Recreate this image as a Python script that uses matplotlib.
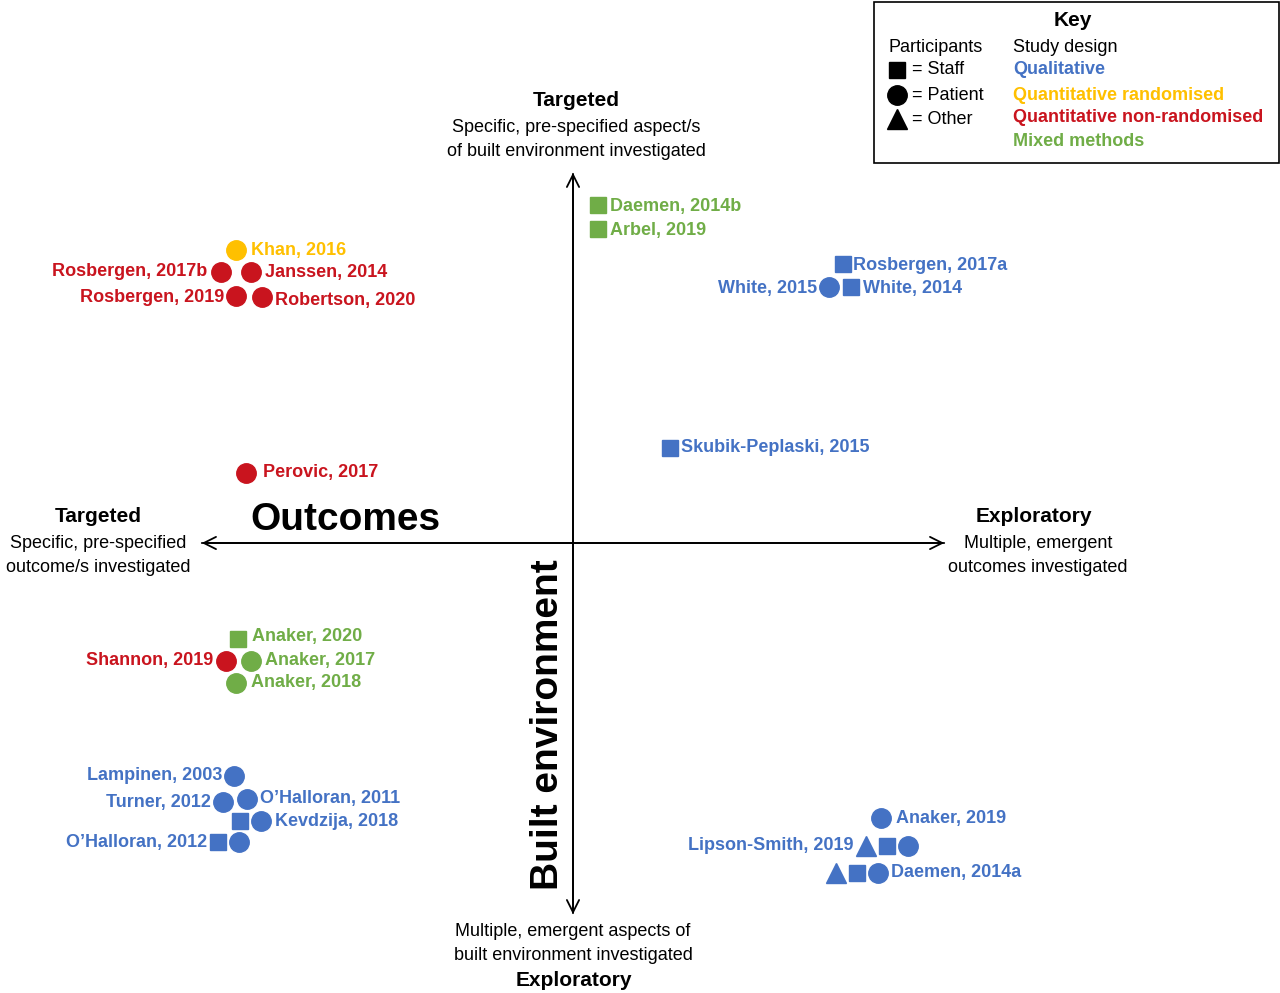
import matplotlib.pyplot as plt

plt.rcParams['font.family'] = ['Liberation Sans', 'DejaVu Sans']

BLUE = '#4472C4'
GREEN = '#70AD47'
YELLOW = '#FFC000'
RED = '#C9141E'

# study markers: x, y (diagram pixel positions), shape, colour
mark_x = [598, 598, 236, 221, 251, 236, 262, 843, 829, 851, 670, 246,
          238, 226, 251, 236, 234, 223, 247, 240, 261, 218, 239,
          881, 866, 887, 908, 836, 857, 878]
mark_y = [205, 229, 250, 272, 272, 296, 297, 264, 287, 287, 448, 473,
          639, 661, 661, 683, 776, 802, 799, 821, 821, 842, 842,
          818, 846, 846, 846, 873, 873, 873]
mark_shape = ['s', 's', 'o', 'o', 'o', 'o', 'o', 's', 'o', 's', 's', 'o',
              's', 'o', 'o', 'o', 'o', 'o', 'o', 's', 'o', 's', 'o',
              'o', '^', 's', 'o', '^', 's', 'o']
mark_col = [GREEN, GREEN, YELLOW, RED, RED, RED, RED, BLUE, BLUE, BLUE, BLUE, RED,
            GREEN, RED, GREEN, GREEN, BLUE, BLUE, BLUE, BLUE, BLUE, BLUE, BLUE,
            BLUE, BLUE, BLUE, BLUE, BLUE, BLUE, BLUE]

# study labels: x, y, text, alignment, colour
lab_x = [610, 610, 251, 207, 265, 224, 275, 853, 817, 863, 681, 263,
         252, 213, 265, 251, 222, 211, 260, 275, 207, 896, 853, 891]
lab_y = [206, 230, 250, 272, 272, 297, 300, 265, 289, 288, 448, 473,
         637, 661, 660, 683, 775, 802, 799, 821, 842, 818, 846, 873]
lab_text = ['Daemen, 2014b', 'Arbel, 2019', 'Khan, 2016', 'Rosbergen, 2017b',
            'Janssen, 2014', 'Rosbergen, 2019', 'Robertson, 2020', 'Rosbergen, 2017a',
            'White, 2015', 'White, 2014', 'Skubik-Peplaski, 2015', 'Perovic, 2017',
            'Anaker, 2020', 'Shannon, 2019', 'Anaker, 2017', 'Anaker, 2018',
            'Lampinen, 2003', 'Turner, 2012', 'O\u2019Halloran, 2011', 'Kevdzija, 2018',
            'O\u2019Halloran, 2012', 'Anaker, 2019', 'Lipson-Smith, 2019', 'Daemen, 2014a']
lab_ha = ['left', 'left', 'left', 'right', 'left', 'right', 'left', 'left',
          'right', 'left', 'left', 'left', 'left', 'right', 'left', 'left',
          'right', 'right', 'left', 'left', 'right', 'left', 'right', 'left']
lab_col = [GREEN, GREEN, YELLOW, RED, RED, RED, RED, BLUE, BLUE, BLUE, BLUE, RED,
           GREEN, RED, GREEN, GREEN, BLUE, BLUE, BLUE, BLUE, BLUE, BLUE, BLUE, BLUE]

fig = plt.figure(figsize=(12.8, 9.93), dpi=100)
ax = fig.add_axes([0, 0, 1, 1])
ax.set_xlim(0, 1280)
ax.set_ylim(993, 0)
ax.axis('off')

arrow = dict(arrowstyle='->', lw=1.3, color='black', mutation_scale=22)
ax.annotate('', xy=(573, 170), xytext=(573, 916), arrowprops=arrow)
ax.annotate('', xy=(573, 917), xytext=(573, 171), arrowprops=arrow)
ax.annotate('', xy=(199, 543), xytext=(947, 543), arrowprops=arrow)
ax.annotate('', xy=(947, 543), xytext=(199, 543), arrowprops=arrow)

size = {'s': 12, 'o': 14, '^': 14}
for x, y, m, c in zip(mark_x, mark_y, mark_shape, mark_col):
    ax.plot(x, y, marker=m, color=c, markersize=size[m], linestyle='none')

for x, y, t, ha, c in zip(lab_x, lab_y, lab_text, lab_ha, lab_col):
    ax.text(x, y, t, ha=ha, va='center', color=c, fontsize=13, fontweight='bold')

hd = dict(ha='center', va='center', fontsize=13)
ax.text(576, 101, 'Targeted', fontweight='bold', **{**hd, 'fontsize': 15})
ax.text(576, 128, 'Specific, pre-specified aspect/s', **hd)
ax.text(576, 151, 'of built environment investigated', **hd)
ax.text(573, 932, 'Multiple, emergent aspects of', **hd)
ax.text(573, 955, 'built environment investigated', **hd)
ax.text(574, 981, 'Exploratory', fontweight='bold', **{**hd, 'fontsize': 15})
ax.text(98, 516, 'Targeted', fontweight='bold', **{**hd, 'fontsize': 15})
ax.text(98, 544, 'Specific, pre-specified', **hd)
ax.text(98, 567, 'outcome/s investigated', **hd)
ax.text(1034, 516, 'Exploratory', fontweight='bold', **{**hd, 'fontsize': 15})
ax.text(1038, 544, 'Multiple, emergent', **hd)
ax.text(1038, 567, 'outcomes investigated', **hd)
ax.text(345, 520, 'Outcomes', ha='center', va='center', fontsize=28, fontweight='bold')
ax.text(548, 725, 'Built environment', ha='center', va='center', fontsize=28,
        fontweight='bold', rotation=90)

# key
ax.add_patch(plt.Rectangle((874, 2), 405, 161, fill=False, lw=1.2, ec='black'))
ax.text(1073, 20, 'Key', ha='center', va='center', fontsize=15, fontweight='bold')
ax.text(889, 47, 'Participants', ha='left', va='center', fontsize=13)
ax.text(1013, 47, 'Study design', ha='left', va='center', fontsize=13)
key_shapes = ['s', 'o', '^']
key_names = ['= Staff', '= Patient', '= Other']
key_y = [70, 95, 119]
for m, n, y in zip(key_shapes, key_names, key_y):
    ax.plot(897, y, marker=m, color='black', markersize=size[m], linestyle='none')
    ax.text(912, y, n, ha='left', va='center', fontsize=13)
designs = ['Qualitative', 'Quantitative randomised', 'Quantitative non-randomised', 'Mixed methods']
design_col = [BLUE, YELLOW, RED, GREEN]
design_y = [70, 95, 118, 142]
for d, c, y in zip(designs, design_col, design_y):
    ax.text(1013, y, d, ha='left', va='center', fontsize=13, fontweight='bold', color=c)

fig.savefig('out.png', dpi=100)
